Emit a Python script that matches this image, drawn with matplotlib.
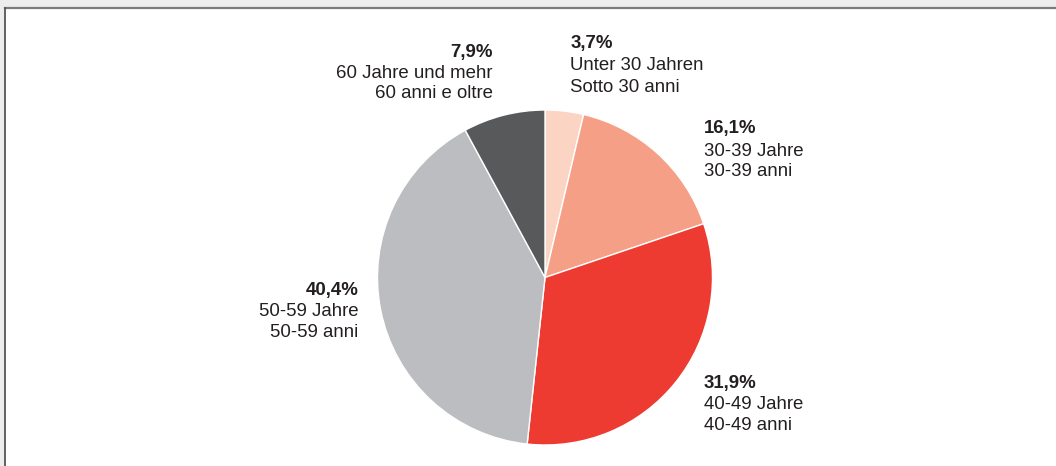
import matplotlib
matplotlib.use("Agg")
import matplotlib.pyplot as plt
from matplotlib.patches import Rectangle
from matplotlib.lines import Line2D

# ---- data ----
shares = [3.7, 16.1, 31.9, 40.4, 7.9]
pct_labels = ["3,7%", "16,1%", "31,9%", "40,4%", "7,9%"]
de_labels = ["Unter 30 Jahren", "30-39 Jahre", "40-49 Jahre", "50-59 Jahre", "60 Jahre und mehr"]
it_labels = ["Sotto 30 anni", "30-39 anni", "40-49 anni", "50-59 anni", "60 anni e oltre"]
colors = ["#fcd4c4", "#f59f87", "#ee3b32", "#bcbdc0", "#58595b"]

# ---- layout (pixels) ----
W, H = 1056, 466
plt.rcParams['font.family'] = ['Liberation Sans', 'DejaVu Sans']
fig = plt.figure(figsize=(W / 100, H / 100), dpi=100)
fig.patch.set_facecolor("white")

# frame: light gray band top/left and dark lines
fig.add_artist(Rectangle((0, 1 - 7.5 / H), 1, 7.5 / H, transform=fig.transFigure,
                         facecolor="#ededed", edgecolor="none"))
fig.add_artist(Rectangle((0, 0), 4 / W, 1, transform=fig.transFigure,
                         facecolor="#ededed", edgecolor="none"))
fig.add_artist(Line2D([4.5 / W, 1], [1 - 7.8 / H, 1 - 7.8 / H], transform=fig.transFigure,
                      color="#7a7a7a", lw=1.6))
fig.add_artist(Line2D([4.8 / W, 4.8 / W], [0, 1 - 7.8 / H], transform=fig.transFigure,
                      color="#555555", lw=1.3))

cx, cy, r = 545, 277.5, 167.5
ax = fig.add_axes([(cx - r) / W, (H - cy - r) / H, 2 * r / W, 2 * r / H])
ax.pie(shares, colors=colors, startangle=90, counterclock=False, radius=1,
       wedgeprops=dict(edgecolor="white", linewidth=1.0))
ax.set_xlim(-1, 1)
ax.set_ylim(-1, 1)
ax.set_aspect("equal")
ax.axis("off")

# label anchors: (x, ha, baselines)
anchors = [
    (570.5, "left", (48.5, 70.5, 92.0)),
    (703.5, "left", (133.5, 155.5, 176.5)),
    (703.5, "left", (388.0, 409.0, 430.0)),
    (358.5, "right", (295.5, 316.5, 337.0)),
    (493.0, "right", (56.5, 77.5, 98.5)),
]
fs = 13.4
tc = "#231f20"
for i, (x, ha, bl) in enumerate(anchors):
    texts = [pct_labels[i], de_labels[i], it_labels[i]]
    for j, t in enumerate(texts):
        fig.text(x / W, 1 - bl[j] / H, t, ha=ha, va="baseline", fontsize=fs,
                 color=tc, fontweight="bold" if j == 0 else "normal")

fig.savefig("out.png", dpi=100)
